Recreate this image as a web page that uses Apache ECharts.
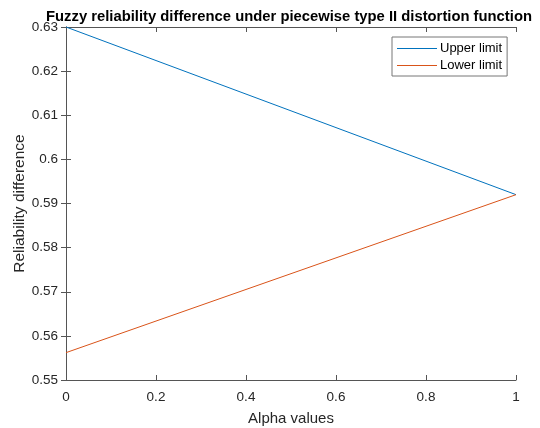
<!DOCTYPE html>
<html><head><meta charset="utf-8">
<script src="https://cdn.jsdelivr.net/npm/echarts@6/dist/echarts.min.js"></script>
<style>html,body{margin:0;padding:0;background:#fff}#c{width:540px;height:428px}</style>
</head><body><div id="c"></div>
<script>
const alphaValues = [0, 1];
const upperLimit = [0.6300, 0.5920];
const lowerLimit = [0.5562, 0.5920];
const xTicks = [0, 0.2, 0.4, 0.6, 0.8, 1];
const yTicks = [0.55, 0.56, 0.57, 0.58, 0.59, 0.6, 0.61, 0.62, 0.63];

const font = 'Liberation Sans, Arial, Helvetica, sans-serif';
const axisCol = '#555';
const blue = '#0072BD', orange = '#D95319';
const chart = echarts.init(document.getElementById('c'));
const baseAxis = {
  axisLine: {show: true, lineStyle: {color: axisCol, width: 1}},
  axisTick: {show: true, inside: true, length: 5, lineStyle: {color: axisCol}},
  splitLine: {show: false}
};
chart.setOption({
  animation: false,
  title: {
    text: 'Fuzzy reliability difference under piecewise type II distortion function',
    left: 284, top: 4, textAlign: 'center',
    textStyle: {fontFamily: font, fontWeight: 'bold', fontSize: 14.8, color: '#000'}
  },
  legend: {
    orient: 'vertical', left: 392, top: 37,
    width: 114,
    backgroundColor: '#fff', borderColor: '#777', borderWidth: 1,
    padding: [5, 5, 4, 5], itemGap: 4,
    itemWidth: 40, itemHeight: 1,
    icon: 'rect',
    textStyle: {fontFamily: font, fontSize: 13, color: '#000', lineHeight: 12, padding: [0,0,0,-2]},
    data: [
      {name: 'Upper limit', itemStyle: {color: blue, borderWidth: 0}},
      {name: 'Lower limit', itemStyle: {color: orange, borderWidth: 0}}
    ]
  },
  grid: {left: 66, right: 24, top: 27, bottom: 48, containLabel: false, outerBoundsMode: 'none'},
  xAxis: [
    Object.assign({}, baseAxis, {
      type: 'value', min: 0, max: 1, interval: 0.2,
      name: 'Alpha values', nameLocation: 'middle', nameGap: 31,
      nameTextStyle: {fontFamily: font, fontSize: 15, color: '#262626'},
      axisLabel: {fontFamily: font, fontSize: 13.5, color: '#262626', margin: 10,
        formatter: v => xTicks.includes(+v.toFixed(2)) ? String(+v.toFixed(2)) : ''}
    }),
    Object.assign({}, baseAxis, {
      type: 'value', min: 0, max: 1, interval: 0.2, position: 'top',
      axisLabel: {show: false}
    })
  ],
  yAxis: [
    Object.assign({}, baseAxis, {
      type: 'value', min: 0.55, max: 0.63, interval: 0.01,
      name: 'Reliability difference', nameLocation: 'middle', nameGap: 38,
      nameMoveOverlap: false,
      nameTextStyle: {fontFamily: font, fontSize: 15.5, color: '#262626'},
      axisLabel: {fontFamily: font, fontSize: 13.5, color: '#262626', margin: 8,
        formatter: v => String(+v.toFixed(2))}
    }),
    Object.assign({}, baseAxis, {
      type: 'value', min: 0.55, max: 0.63, interval: 0.01, position: 'right',
      axisLabel: {show: false}
    })
  ],
  series: [
    {name: 'Upper limit', type: 'line', showSymbol: false, symbol: 'none',
      data: alphaValues.map((a, i) => [a, upperLimit[i]]),
      lineStyle: {color: blue, width: 1}, itemStyle: {color: blue}},
    {name: 'Lower limit', type: 'line', showSymbol: false, symbol: 'none',
      data: alphaValues.map((a, i) => [a, lowerLimit[i]]),
      lineStyle: {color: orange, width: 1}, itemStyle: {color: orange}}
  ]
});
</script></body></html>
